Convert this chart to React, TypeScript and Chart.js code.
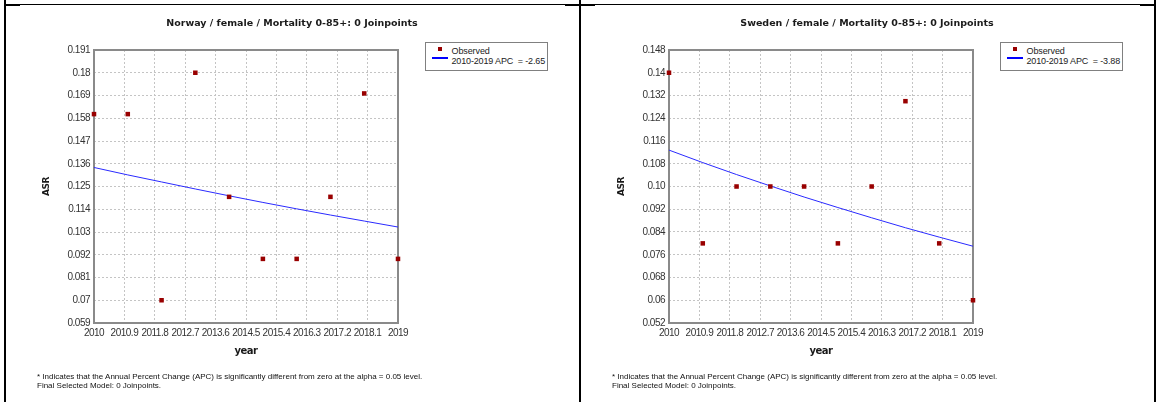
import React, { useEffect, useRef } from 'react';
import { Chart, registerables } from 'chart.js';

Chart.register(...registerables);

// ---- data ----
const years = [2010, 2011, 2012, 2013, 2014, 2015, 2016, 2017, 2018, 2019];

const norwayObserved = [0.16, 0.16, 0.07, 0.18, 0.12, 0.09, 0.09, 0.12, 0.17, 0.09];
const norwayFit = [0.1342, 0.1306, 0.1272, 0.1238, 0.1205, 0.1173, 0.1142, 0.1112, 0.1083, 0.1054];

const swedenObserved = [0.14, 0.08, 0.10, 0.10, 0.10, 0.08, 0.10, 0.13, 0.08, 0.06];
const swedenFit = [0.1128, 0.1084, 0.1042, 0.1002, 0.0963, 0.0926, 0.0890, 0.0855, 0.0822, 0.0790];

const xTickLabels = ['2010', '2010.9', '2011.8', '2012.7', '2013.6', '2014.5', '2015.4', '2016.3', '2017.2', '2018.1', '2019'];
const norwayYTickLabels = ['0.191', '0.18', '0.169', '0.158', '0.147', '0.136', '0.125', '0.114', '0.103', '0.092', '0.081', '0.07', '0.059'];
const swedenYTickLabels = ['0.148', '0.14', '0.132', '0.124', '0.116', '0.108', '0.10', '0.092', '0.084', '0.076', '0.068', '0.06', '0.052'];

const norwayTitle = 'Norway / female / Mortality 0-85+: 0 Joinpoints';
const swedenTitle = 'Sweden / female / Mortality 0-85+: 0 Joinpoints';
const norwayApc = '2010-2019 APC  = -2.65';
const swedenApc = '2010-2019 APC  = -3.88';
const observedLabel = 'Observed';
const xTitle = 'year';
const yTitle = 'ASR';
const footnote1 = '* Indicates that the Annual Percent Change (APC) is significantly different from zero at the alpha = 0.05 level.';
const footnote2 = 'Final Selected Model: 0 Joinpoints.';

// ---- layout constants ----
const PANEL_W = 574;
const PANEL_H = 402;
const TICK_FONT = "'Liberation Sans', Arial, sans-serif";
const BOLD_FONT = "'DejaVu Sans', Verdana, sans-serif";
const TEXT_FONT = "'Liberation Sans', Arial, sans-serif";

const framePlugin = {
  id: 'plotFrame',
  beforeDraw(chart: any) {
    (chart.ctx as any).letterSpacing = '-0.5px';
  },
  beforeDatasetsDraw(chart: any) {
    const { ctx, chartArea: a } = chart;
    ctx.save();
    ctx.strokeStyle = '#8a8a8a';
    ctx.lineWidth = 2;
    ctx.strokeRect(a.left, a.top, a.right - a.left, a.bottom - a.top);
    ctx.restore();
  },
};

type PanelProps = {
  left: number;
  title: string;
  observed: number[];
  fit: number[];
  yLabels: string[];
  apc: string;
};

function Panel({ left, title, observed, fit, yLabels, apc }: PanelProps) {
  const ref = useRef<HTMLCanvasElement | null>(null);

  useEffect(() => {
    if (!ref.current) return;
    const yMax = parseFloat(yLabels[0]);
    const yMin = parseFloat(yLabels[yLabels.length - 1]);
    const chart = new Chart(ref.current, {
      type: 'scatter',
      data: {
        datasets: [
          {
            label: observedLabel,
            data: years.map((x, i) => ({ x, y: observed[i] })),
            showLine: false,
            pointStyle: 'rect',
            pointRadius: 3.2,
            pointBackgroundColor: '#990000',
            pointBorderColor: '#990000',
            pointBorderWidth: 0,
            clip: false,
          } as any,
          {
            label: apc,
            data: years.map((x, i) => ({ x, y: fit[i] })),
            showLine: true,
            borderColor: '#2a2aff',
            borderWidth: 1,
            pointRadius: 0,
            tension: 0,
            clip: false,
          } as any,
        ],
      },
      options: {
        animation: false,
        responsive: false,
        events: [],
        layout: { padding: { left: 29, right: PANEL_W - 393, top: 50, bottom: PANEL_H - 323 - 34.4 } },
        plugins: { legend: { display: false }, title: { display: false }, tooltip: { enabled: false } },
        scales: {
          x: {
            type: 'linear',
            min: years[0],
            max: years[years.length - 1],
            afterBuildTicks: (s: any) => {
              s.ticks = xTickLabels.map((l) => ({ value: parseFloat(l) }));
            },
            afterFit: (s: any) => {
              s.height = 34.4;
            },
            ticks: {
              autoSkip: false,
              maxRotation: 0,
              minRotation: 0,
              padding: 4.5,
              color: '#333',
              font: { family: TICK_FONT, size: 10 },
              callback: (_v: any, i: number) => xTickLabels[i],
            },
            grid: { color: '#c4c4c4', lineWidth: 1, drawTicks: false },
            border: { display: false, dash: [2, 2] },
            title: {
              display: true,
              text: xTitle,
              color: '#1a1a1a',
              font: { family: BOLD_FONT, size: 10, weight: 'bold' },
              padding: 0,
            },
          },
          y: {
            type: 'linear',
            min: yMin,
            max: yMax,
            afterBuildTicks: (s: any) => {
              s.ticks = yLabels.map((l) => ({ value: parseFloat(l) })).reverse();
            },
            afterFit: (s: any) => {
              s.width = 60;
            },
            ticks: {
              autoSkip: false,
              padding: 4,
              color: '#333',
              font: { family: TICK_FONT, size: 10 },
              callback: (_v: any, i: number) => yLabels[yLabels.length - 1 - i],
            },
            grid: { color: '#c4c4c4', lineWidth: 1, drawTicks: false },
            border: { display: false, dash: [2, 2] },
            title: {
              display: true,
              text: yTitle,
              color: '#1a1a1a',
              font: { family: BOLD_FONT, size: 9, weight: 'bold' },
              padding: { top: 7, bottom: 0 },
            },
          },
        },
      } as any,
      plugins: [framePlugin],
    });
    return () => chart.destroy();
  }, []);

  return (
    <div style={{ position: 'absolute', left, top: 0, width: PANEL_W, height: PANEL_H }}>
      <canvas ref={ref} width={PANEL_W} height={PANEL_H} style={{ position: 'absolute', left: 0, top: 0, width: PANEL_W, height: PANEL_H }} />
      <div
        style={{
          position: 'absolute', left: 0, top: 17, width: PANEL_W, lineHeight: '12px', textAlign: 'center',
          fontFamily: BOLD_FONT, fontWeight: 'bold', fontSize: 9.5, color: '#1a1a1a', whiteSpace: 'pre',
        }}
      >
        {title}
      </div>
      <div
        style={{
          position: 'absolute', left: 420, top: 42, width: 123, height: 29, boxSizing: 'border-box',
          border: '1px solid #808080', background: '#fff',
        }}
      >
        <div style={{ position: 'absolute', left: 12, top: 4, width: 4, height: 4, background: '#990000' }} />
        <div
          style={{
            position: 'absolute', left: 25.5, top: 2.5, lineHeight: '10px', fontFamily: TEXT_FONT, fontSize: 9,
            color: '#222', whiteSpace: 'pre', letterSpacing: '-0.1px',
          }}
        >
          {observedLabel}
        </div>
        <div style={{ position: 'absolute', left: 6, top: 14, width: 16, height: 2, background: '#0000ff' }} />
        <div
          style={{
            position: 'absolute', left: 25.5, top: 13, lineHeight: '10px', fontFamily: TEXT_FONT, fontSize: 9,
            color: '#222', whiteSpace: 'pre', letterSpacing: '-0.15px',
          }}
        >
          {apc}
        </div>
      </div>
      <div
        style={{
          position: 'absolute', left: 32, top: 373.3, lineHeight: '8.5px', fontFamily: TEXT_FONT, fontSize: 8,
          color: '#111', whiteSpace: 'pre',
        }}
      >
        {footnote1}
        {'\n'}
        {footnote2}
      </div>
    </div>
  );
}

export default function App() {
  const line = (l: number, t: number, w: number, h: number) => (
    <div style={{ position: 'absolute', left: l, top: t, width: w, height: h, background: '#000' }} />
  );
  return (
    <div style={{ position: 'absolute', left: 0, top: 0, width: 1156, height: 402, background: '#fff', overflow: 'hidden' }}>
      <Panel left={5} title={norwayTitle} observed={norwayObserved} fit={norwayFit} yLabels={norwayYTickLabels} apc={norwayApc} />
      <Panel left={580} title={swedenTitle} observed={swedenObserved} fit={swedenFit} yLabels={swedenYTickLabels} apc={swedenApc} />
      {line(4, 0, 2, 402)}
      {line(579, 0, 2, 402)}
      {line(1154, 0, 2, 402)}
      {line(4, 4, 1152, 1)}
      {line(4, 4, 16, 2)}
      {line(565, 4, 30, 2)}
      {line(1140, 4, 15, 2)}
    </div>
  );
}
